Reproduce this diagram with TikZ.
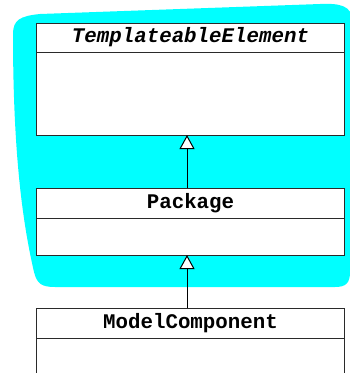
\documentclass[tikz,border=0pt]{standalone}
\usepackage{fontspec}
\setmonofont{Liberation Mono}
\usepackage{tikz}
\usetikzlibrary{arrows.meta,positioning}
\definecolor{blob}{HTML}{00FFFF}
\definecolor{edge}{HTML}{2A2A2A}
\tikzset{
  classhead/.style={
    draw=edge, fill=white, line width=1pt, outer sep=0pt,
    minimum width=308pt, minimum height=30pt, inner sep=0pt,
    font=\fontsize{20.8}{24}\selectfont\ttfamily\bfseries
  },
  classbody/.style={
    draw=edge, fill=white, line width=1pt, outer sep=0pt,
    minimum width=308pt, inner sep=0pt
  },
  inherit/.style={-{Triangle[open,fill=white,width=15pt,length=14pt]}, line width=1pt}
}

\begin{document}
\begin{tikzpicture}[x=1pt,y=-1pt]
  \useasboundingbox (0,0) rectangle (350,373);
  \clip (0,0) rectangle (350,373);
  % package region
  \fill[blob] (13,34) .. controls (13,20) and (20,16) .. (40,14)
    -- (320,4) .. controls (340,3) and (352,6) .. (352,20)
    -- (350,272) .. controls (350,283) and (346,287) .. (335,287)
    -- (55,287) .. controls (42,287) and (37,284) .. (34,272)
    .. controls (22,220) and (13,150) .. cycle;
  % classes
  \node[classhead, minimum height=29pt] (templ) at (190.5,37.5) {\itshape TemplateableElement};
  \node[classbody, minimum height=83pt, below=0pt of templ] (templbody) {};
  \node[classhead] (pkg) at (190.5,203) {Package};
  \node[classbody, minimum height=37pt, below=0pt of pkg] (pkgbody) {};
  \node[classhead] (comp) at (190.5,323) {ModelComponent};
  \node[classbody, minimum height=62pt, below=0pt of comp] (compbody) {};
  % generalisation
  \draw[inherit] ([xshift=-3.5pt]pkg.north) -- ([xshift=-3.5pt]templbody.south);
  \draw[inherit] ([xshift=-3.5pt]comp.north) -- ([xshift=-3.5pt]pkgbody.south);
\end{tikzpicture}
\end{document}
